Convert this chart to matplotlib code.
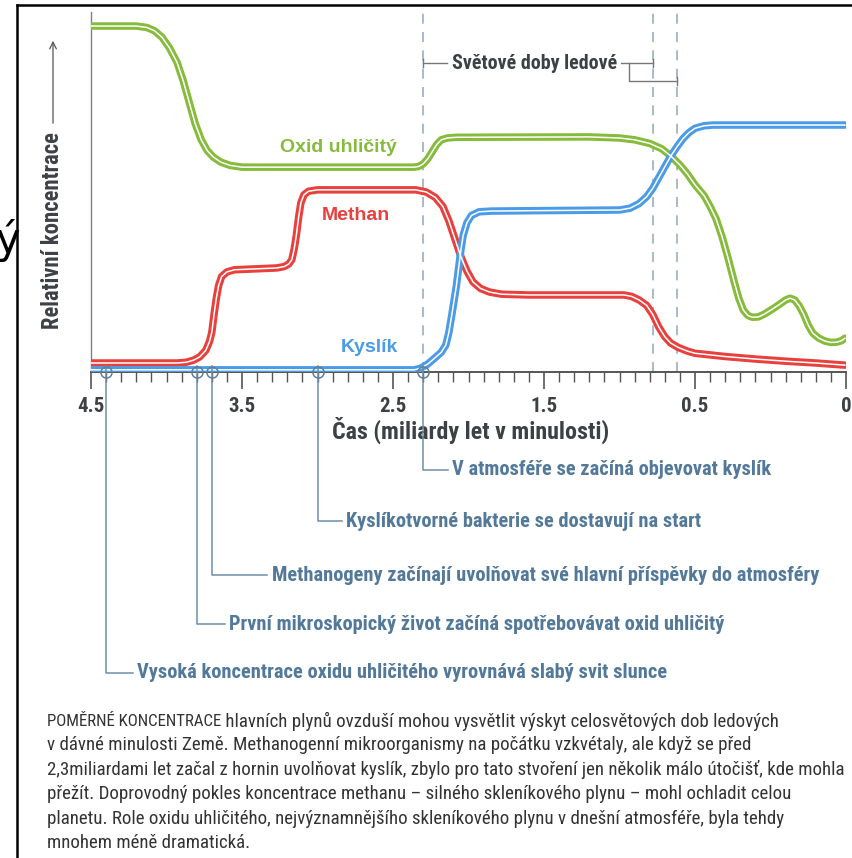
import numpy as np
import matplotlib
matplotlib.use("Agg")
import matplotlib.pyplot as plt
from matplotlib.lines import Line2D

# condensed face for the print look, DejaVu if it is missing
NARROW = ['Roboto Condensed', 'PT Sans Narrow', 'DejaVu Sans']
WIDE = ['Liberation Sans', 'DejaVu Sans']

# time in billions of years before present, relative concentration 0..1
co2_t = [4.5, 4.2, 4.13, 4.08, 4.03, 3.98, 3.93, 3.89, 3.85, 3.81, 3.77, 3.73, 3.69, 3.64,
         3.58, 3.5, 2.36, 2.33, 2.3, 2.27, 2.24, 2.21, 2.18, 2.14, 2.08, 1.2, 1.0, 0.9, 0.8,
         0.72, 0.66, 0.6, 0.55, 0.5, 0.47, 0.45, 0.43, 0.41, 0.39, 0.37, 0.355, 0.34, 0.325,
         0.31, 0.29, 0.27, 0.245, 0.22, 0.2, 0.185, 0.17, 0.155, 0.14, 0.125, 0.11, 0.09,
         0.07, 0.05, 0.03, 0.015, 0.003]
co2_v = [0.961, 0.961, 0.957, 0.948, 0.93, 0.9, 0.86, 0.81, 0.75, 0.69, 0.645, 0.615, 0.597,
         0.583, 0.574, 0.569, 0.569, 0.571, 0.578, 0.592, 0.612, 0.632, 0.645, 0.65, 0.652,
         0.653, 0.65, 0.645, 0.635, 0.62, 0.6, 0.575, 0.55, 0.52, 0.49, 0.46, 0.425, 0.375,
         0.315, 0.25, 0.205, 0.172, 0.157, 0.152, 0.153, 0.161, 0.174, 0.188, 0.2, 0.205, 0.2,
         0.184, 0.16, 0.13, 0.108, 0.094, 0.086, 0.082, 0.083, 0.087, 0.094]

ch4_t = [4.5, 3.93, 3.87, 3.82, 3.78, 3.74, 3.715, 3.7, 3.685, 3.67, 3.655, 3.635, 3.6, 3.55,
         3.27, 3.22, 3.19, 3.17, 3.155, 3.14, 3.125, 3.11, 3.09, 3.06, 3.0, 2.35, 2.28, 2.22,
         2.17, 2.13, 2.09, 2.05, 2.01, 1.97, 1.92, 1.86, 1.78, 1.6, 0.97, 0.92, 0.87, 0.82,
         0.78, 0.74, 0.7, 0.66, 0.61, 0.55, 0.5, 0.4, 0.3, 0.2, 0.1, 0.003]
ch4_v = [0.025, 0.025, 0.027, 0.033, 0.042, 0.06, 0.085, 0.11, 0.16, 0.205, 0.24, 0.265,
         0.278, 0.284, 0.289, 0.293, 0.3, 0.312, 0.34, 0.38, 0.43, 0.47, 0.492, 0.502, 0.506,
         0.506, 0.5, 0.485, 0.46, 0.42, 0.37, 0.32, 0.28, 0.25, 0.232, 0.222, 0.216, 0.214,
         0.214, 0.21, 0.2, 0.185, 0.16, 0.125, 0.098, 0.08, 0.068, 0.058, 0.052, 0.043,
         0.036, 0.03, 0.025, 0.019]

o2_t = [4.5, 2.36, 2.32, 2.27, 2.22, 2.18, 2.15, 2.13, 2.11, 2.095, 2.08, 2.065, 2.05, 2.035,
        2.01, 1.98, 1.93, 1.85, 1.6, 1.0, 0.93, 0.87, 0.82, 0.78, 0.74, 0.7, 0.66, 0.62, 0.58,
        0.54, 0.5, 0.47, 0.44, 0.003]
o2_v = [0.006, 0.006, 0.01, 0.022, 0.04, 0.055, 0.075, 0.11, 0.16, 0.2, 0.24, 0.29, 0.34,
        0.38, 0.415, 0.435, 0.445, 0.447, 0.448, 0.45, 0.455, 0.468, 0.487, 0.51, 0.54, 0.57,
        0.6, 0.625, 0.648, 0.665, 0.677, 0.684, 0.686, 0.686]

ice_ages = [2.3, 0.78, 0.62]

events = [2.3, 3.0, 3.7, 3.8, 4.4]
event_rows = [-0.272, -0.414, -0.564, -0.700, -0.836]
event_ends = [2.137, 2.837, 3.332, 3.615, 4.223]
event_texts = ['V atmosféře se začíná objevovat kyslík',
               'Kyslíkotvorné bakterie se dostavují na start',
               'Methanogeny začínají uvolňovat své hlavní příspěvky do atmosféry',
               'První mikroskopický život začíná spotřebovávat oxid uhličitý',
               'Vysoká koncentrace oxidu uhličitého vyrovnává slabý svit slunce']

major_ticks = [4.5, 3.5, 2.5, 1.5, 0.5, 0]
major_labels = ['4.5', '3.5', '2.5', '1.5', '0.5', '0']

caption_head = 'POMĚRNÉ KONCENTRACE'
caption = [' hlavních plynů ovzduší mohou vysvětlit výskyt celosvětových dob ledových',
           'v dávné minulosti Země. Methanogenní mikroorganismy na počátku vzkvétaly, ale když se před',
           '2,3miliardami let začal z hornin uvolňovat kyslík, zbylo pro tato stvoření jen několik málo útočišť, kde mohla',
           'přežít. Doprovodný pokles koncentrace methanu – silného skleníkového plynu – mohl ochladit celou',
           'planetu. Role oxidu uhličitého, nejvýznamnějšího skleníkového plynu v dnešní atmosféře, byla tehdy',
           'mnohem méně dramatická.']

GREEN = '#86bb3c'
RED = '#e8403d'
BLUE = '#4b9be6'
STEEL = '#52789a'
DARK = '#3d4045'

W, H = 852, 858
fig = plt.figure(figsize=(W / 100, H / 100), dpi=100)
ax = fig.add_axes([91 / W, (H - 372) / H, 755 / W, 360 / H])

# axis is linear from 4.5 to 0.5, the last half billion years is stretched x2
fwd = lambda t: np.interp(t, [0, 0.5, 4.5], [0, 1, 5])
inv = lambda p: np.interp(p, [0, 1, 5], [0, 0.5, 4.5])
ax.set_xscale('function', functions=(fwd, inv))
ax.set_xlim(4.5, 0)
ax.set_ylim(0, 1)

for s in ['top', 'right']:
    ax.spines[s].set_visible(False)
ax.spines['left'].set_color('#808080')
ax.spines['left'].set_linewidth(1.0)
ax.spines['bottom'].set_color('#555555')
ax.spines['bottom'].set_linewidth(1.4)
ax.set_yticks([])

minor = [round(x, 2) for x in np.arange(0.5, 4.5, 0.1)] + [0.05 * i for i in range(1, 10)]
minor = [m for m in minor if not any(abs(m - M) < 1e-6 for M in major_ticks)]
ax.set_xticks(major_ticks)
ax.set_xticklabels(major_labels)
ax.set_xticks(minor, minor=True)
ax.tick_params(axis='x', which='major', length=12, width=1.2, color='#555555', pad=6,
               labelsize=15, labelcolor=DARK)
ax.tick_params(axis='x', which='minor', length=7, width=1.0, color='#555555')
for lab in ax.get_xticklabels():
    lab.set_fontfamily(NARROW)
    lab.set_fontweight('bold')

# ice ages
for t in ice_ages:
    ax.plot([t, t], [0, 1.005], color='#9aaec2', lw=1.2, dashes=(6, 5), clip_on=False, zorder=1)


def double_line(t, v, color):
    ax.plot(t, v, color=color, lw=5.4, solid_joinstyle='round', solid_capstyle='round', zorder=3)
    ax.plot(t, v, color='white', lw=1.1, solid_joinstyle='round', solid_capstyle='round', zorder=4)


double_line(co2_t, co2_v, GREEN)
double_line(ch4_t, ch4_v, RED)
double_line(o2_t, o2_v, BLUE)

ax.text(2.863, 0.625, 'Oxid uhličitý', color=GREEN, fontsize=14, fontweight='bold',
        family=WIDE, ha='center', va='center')
ax.text(2.744, 0.436, 'Methan', color=RED, fontsize=14, fontweight='bold',
        family=WIDE, ha='center', va='center')
ax.text(2.658, 0.067, 'Kyslík', color=BLUE, fontsize=14, fontweight='bold',
        family=WIDE, ha='center', va='center')

# events below the axis
ax.plot(events, [0] * len(events), 'o', ms=8, mfc='none', mec='#5f7f98', mew=1.1,
        clip_on=False, zorder=6)
for t, row, end, txt in zip(events, event_rows, event_ends, event_texts):
    ax.plot([t, t, end], [0.017, row, row], color='#6f8ea8', lw=1.1, clip_on=False, zorder=5)
    ax.annotate(txt, xy=(end, row), xytext=(3, 0), textcoords='offset points',
                ha='left', va='center', color=STEEL, fontsize=14.7, fontweight='bold',
                family=NARROW, annotation_clip=False)

ax.text(1.985, -0.161, 'Čas (miliardy let v minulosti)', ha='center', va='center',
        fontsize=17.3, fontweight='bold', family=NARROW, color=DARK)

# ice age bracket
yb, yb2 = 0.858, 0.808
ax.plot([2.3, 2.14], [yb, yb], color='#777777', lw=1.0, clip_on=False)
ax.plot([2.3, 2.3], [yb - 0.012, yb + 0.012], color='#777777', lw=1.0, clip_on=False)
ax.annotate('Světové doby ledové', xy=(2.14, yb), xytext=(3, 0), textcoords='offset points',
            ha='left', va='center', fontsize=14.4, fontweight='bold', family=NARROW,
            color=DARK, annotation_clip=False)
ax.plot([0.99, 0.78], [yb, yb], color='#777777', lw=1.0, clip_on=False)
ax.plot([0.936, 0.936, 0.62], [yb, yb2, yb2], color='#777777', lw=1.0, clip_on=False)
for t, y in [(0.78, yb), (0.62, yb2)]:
    ax.plot([t, t], [y - 0.012, y + 0.012], color='#777777', lw=1.0, clip_on=False)

# y label with arrow
fig.text(53 / W, 1 - 231 / H, 'Relativní koncentrace', rotation=90, ha='center', va='center',
         fontsize=16.3, fontweight='bold', family=NARROW, color=DARK)
ax.annotate('', xy=(53, H - 38), xytext=(53, H - 126), xycoords='figure pixels',
            textcoords='figure pixels',
            arrowprops=dict(arrowstyle='->', color='#555555', lw=0.9, mutation_scale=12))

# caption, the caps lead-in is set tighter in the print
head = fig.text(47 / W, 1 - 721 / H, caption_head, ha='left', va='center',
                fontsize=12.2, family=NARROW, color='#333333')
fig.canvas.draw()
head_end = head.get_window_extent().x1
fig.text(head_end / W, 1 - 721 / H, caption[0], ha='left', va='center',
         fontsize=13.6, family=NARROW, color='#333333')
for i, line in enumerate(caption[1:], start=1):
    fig.text(47 / W, 1 - (721 + 24.4 * i) / H, line, ha='left', va='center',
             fontsize=13.6, family=NARROW, color='#333333')

# stray glyph and frame from the source slide
fig.text(20 / W, 1 - 240 / H, 'ý', ha='right', va='center', fontsize=30, color='black')
fig.add_artist(Line2D([17 / W, 17 / W], [0, 1 - 5 / H], color='black', lw=1.8))
fig.add_artist(Line2D([17 / W, 1], [1 - 5 / H, 1 - 5 / H], color='black', lw=1.8))

plt.savefig('out.png', dpi=100)
